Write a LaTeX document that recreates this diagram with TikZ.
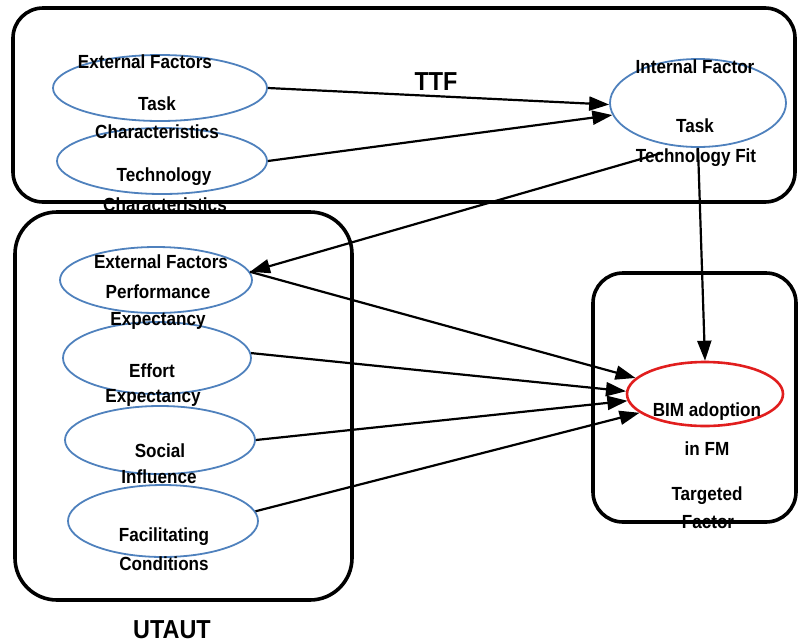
\documentclass[tikz,border=0pt]{standalone}
\usepackage{fontspec}
\setmainfont{Liberation Sans}[FakeStretch=0.9]
\usetikzlibrary{shapes.geometric,arrows.meta}
\definecolor{ovalblue}{RGB}{79,129,189}
\definecolor{ovalred}{RGB}{225,30,30}
\begin{document}
\begin{tikzpicture}[x=1pt,y=-1pt,
  frame/.style={draw=black, line width=3.6pt, rounded corners=#1},
  frame/.default=30pt,
  oval/.style={ellipse, draw=ovalblue, line width=1.8pt, inner sep=0pt},
  lbl/.style={font=\bfseries\fontsize{19}{21}\selectfont, anchor=base, inner sep=0pt},
  big/.style={font=\bfseries\fontsize{26}{29}\selectfont, anchor=base, inner sep=0pt},
  link/.style={line width=2.2pt, -{Triangle[length=20pt,width=14pt]}}]
\useasboundingbox (0,0) rectangle (798,643);

% TTF group
\draw[frame] (13,8) rectangle (795,202);
\node[oval, minimum width=214pt, minimum height=66pt] (taskc) at (160,88) {};
\node[oval, minimum width=210pt, minimum height=66pt] (techc) at (162,161) {};
\node[oval, minimum width=176pt, minimum height=88pt] (ttfit) at (698,103) {};
\node[lbl] (t1) at (145,68) {External Factors};
\node[lbl] (t2) at (157,110) {Task};
\node[lbl] (t3) at (157,138) {Characteristics};
\node[lbl] (t4) at (164,181) {Technology};
\node[lbl] (t5) at (165,211) {Characteristics};
\node[big] (ttf) at (436,90) {TTF};
\node[lbl] (t6) at (695,73) {Internal Factor};
\node[lbl] (t7) at (695,132) {Task};
\node[lbl] (t8) at (696,162) {Technology Fit};

% UTAUT group
\node[oval, minimum width=192pt, minimum height=66pt] (perf) at (156,280) {};
\node[oval, minimum width=188pt, minimum height=72pt] (effort) at (157,358) {};
\node[oval, minimum width=190pt, minimum height=68pt] (social) at (160,440) {};
\node[oval, minimum width=190pt, minimum height=72pt] (facil) at (163,521) {};
\node[lbl] (u1) at (161,268) {External Factors};
\node[lbl] (u2) at (158,298) {Performance};
\node[lbl] (u3) at (158,325) {Expectancy};
\node[lbl] (u4) at (152,377) {Effort};
\node[lbl] (u5) at (153,402) {Expectancy};
\node[lbl] (u6) at (160,457) {Social};
\node[lbl] (u7) at (159,483) {Influence};
\node[lbl] (u8) at (164,541) {Facilitating};
\node[lbl] (u9) at (164,570) {Conditions};
\node[big] (utaut) at (172,638) {UTAUT};
\draw[frame=42pt] (15,212) rectangle (352,600);

% Targeted factor
\node[ellipse, draw=ovalred, line width=2.6pt, inner sep=0pt,
      minimum width=156pt, minimum height=64pt] (bim) at (705,394) {};
\node[lbl] (b1) at (707,416) {BIM adoption};
\node[lbl] (b2) at (707,455) {in FM};
\node[lbl] (b3) at (707,500) {Targeted};
\node[lbl] (b4) at (708,528) {Factor};
\draw[frame] (593,273) rectangle (796,522);

% Connectors
\draw[link] (taskc.east) -- (ttfit.181);
\draw[link] (techc.east) -- (ttfit.188);
\draw[link, shorten <=20pt] (ttfit.250) -- (perf.5);
\draw[link] (ttfit.south) -- (bim.north);
\draw[link] (perf.5) -- (bim.167);
\draw[link] (effort.3) -- (bim.178);
\draw[link] (social.east) -- (bim.185);
\draw[link] (facil.6) -- (bim.196);
\end{tikzpicture}
\end{document}
